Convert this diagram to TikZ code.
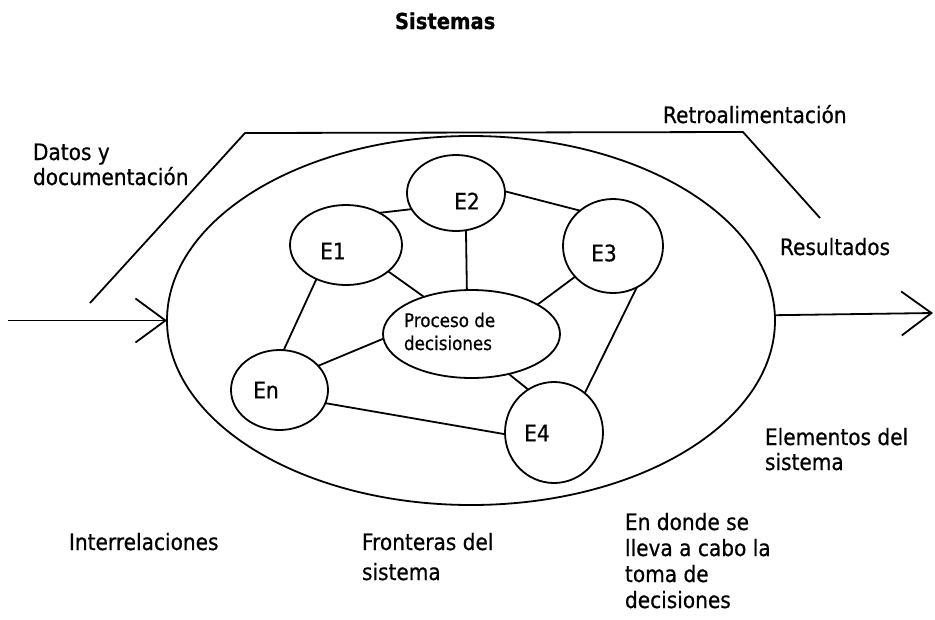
\documentclass[tikz,border=0pt]{standalone}
\usepackage{fontspec}
\setmainfont{DejaVu Sans}[FakeStretch=0.89,FakeBold=0.6]
\usetikzlibrary{shapes.geometric,arrows.meta}
\begin{document}
\begin{tikzpicture}[x=1pt,y=-1pt,
  every node/.style={inner sep=0pt,outer sep=0pt},
  elem/.style={ellipse,draw,line width=1.8pt,inner sep=0pt},
  lbl/.style={font=\fontsize{22.6}{25}\selectfont,align=left,anchor=base west},
  elbl/.style={font=\fontsize{22.6}{25}\selectfont,anchor=center},
  conn/.style={line width=1.8pt},
  arr/.style={line width=1.8pt,-{Straight Barb[length=30pt,width=44pt,line width=1.8pt]}}]
\useasboundingbox (0,0) rectangle (935,619);

% system boundary
\node[elem,minimum width=608pt,minimum height=369pt] (sys) at (471,320.5) {};

% elements
\node[elem,minimum width=112pt,minimum height=80pt] (E1) at (346,245) {};
\node[elem,minimum width=98pt,minimum height=76pt] (E2) at (456,193) {};
\node[elem,minimum width=100pt,minimum height=94pt] (E3) at (613,246) {};
\node[elem,minimum width=97pt,minimum height=80pt] (En) at (279.5,390) {};
\node[elem,minimum width=98pt,minimum height=101pt] (E4) at (554,432.5) {};
\node[elem,minimum width=177pt,minimum height=88pt] (P) at (471.5,334) {};

% element labels
\node[elbl] (tE1) at (333,251) {E1};
\node[elbl] (tE2) at (467,201) {E2};
\node[elbl] (tE3) at (604,253) {E3};
\node[elbl] (tEn) at (266,390) {En};
\node[elbl] (tE4) at (537,433) {E4};
\node[font=\fontsize{18.8}{23}\selectfont,align=left,anchor=base west] (tP) at (404,350) {Proceso de\\decisiones};

% interrelations
\draw[conn] (E1.44) -- (E2.200);
\draw[conn] (E2.2) -- (E3.133);
\draw[conn] (E2.-75) -- (P.96);
\draw[conn] (E1.-32) -- (P.142.5);
\draw[conn] (E3.219) -- (P.24);
\draw[conn] (E3.300) -- (E4.52.6);
\draw[conn] (E1.229) -- (En.84);
\draw[conn] (En.32) -- (P.183);
\draw[conn] (En.-16) -- (E4.182);
\draw[conn] (P.313) -- (E4.121.5);

% input / output
\coordinate (inS) at (8,320.5);
\coordinate (outE) at (933,313);
\draw[arr] (inS) -- (sys.180);
\draw[arr] (sys.1.4) -- (outE);

% feedback
\coordinate (f1) at (90,303);
\coordinate (f2) at (245,133);
\coordinate (f3) at (743,132);
\coordinate (f4) at (820,218);
\draw[conn,line join=round] (f1) -- (f2) -- (f3) -- (f4);

% texts
\node[font=\bfseries\fontsize{22}{25}\selectfont,anchor=base west] (title) at (395,29) {Sistemas};
\node[lbl] (tRet) at (663,123) {Retroalimentación};
\node[lbl] (tDat) at (33,185) {Datos y\\documentación};
\node[lbl] (tRes) at (780,255) {Resultados};
\node[lbl] (tEle) at (765,470) {Elementos del\\sistema};
\node[lbl] (tInt) at (69,550) {Interrelaciones};
\node[lbl,font=\fontsize{22.6}{30}\selectfont] (tFro) at (362,580) {Fronteras del\\sistema};
\node[lbl,font=\fontsize{22.6}{26}\selectfont] (tDon) at (625,608) {En donde se\\lleva a cabo la\\toma de\\decisiones};
\end{tikzpicture}
\end{document}
